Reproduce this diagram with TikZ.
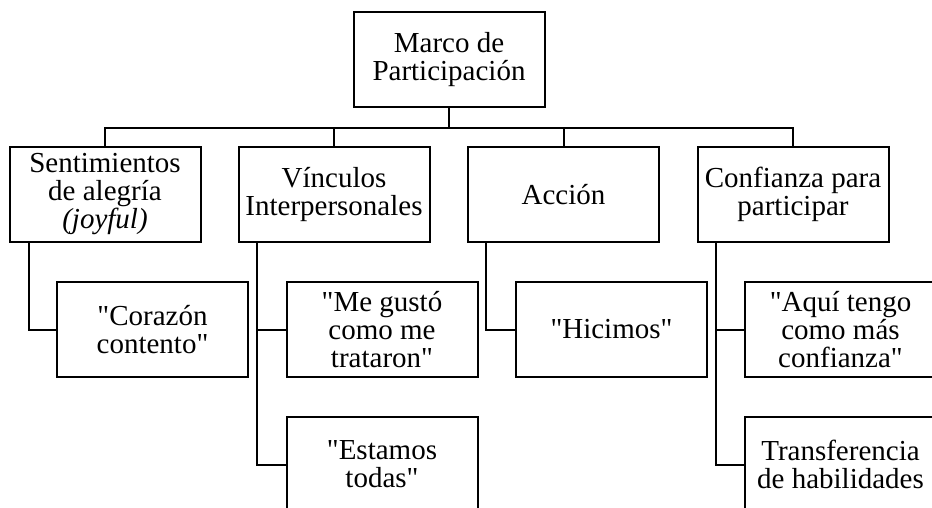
\documentclass[tikz,border=0pt]{standalone}
\usepackage{fontspec}
\setmainfont{Liberation Serif}[Ligatures=TeXOff]
\usepackage{tikz}
\tikzset{>=latex}
\tikzset{box/.style = {draw, line width = 1pt, align = center, minimum width = 95.5pt, minimum height = 47.5pt, inner sep = 1pt, font = \fontsize{14.5}{14}\selectfont},
link/.style = {line width = 1pt}}

\begin{document}
\begin{tikzpicture}[x = 0.5pt, y = -0.5pt]
\useasboundingbox (0,0) rectangle (932,508);
\clip (0,0) rectangle (932,508);

% raiz
\node[box] (marco) at (449,60) {Marco de\\Participaci\'on};

% primer nivel
\node[box] (alegria) at (105,194.5) {Sentimientos\\de alegr\'ia\\\textit{(joyful)}};
\node[box] (vinculos) at (334,194.5) {V\'inculos\\Interpersonales};
\node[box] (accion) at (563.5,194.5) {Acci\'on};
\node[box] (confianza) at (793,194.5) {Confianza para\\participar};

% segundo nivel
\node[box] (corazon) at (152.5,329.5) {"Coraz\'on\\contento"};
\node[box] (gusto) at (382,329.5) {"Me gust\'o\\como me\\trataron"};
\node[box] (todas) at (382,464.5) {"Estamos\\todas"};
\node[box] (hicimos) at (611.5,329.5) {"Hicimos"};
\node[box] (aqui) at (840.5,329.5) {"Aqu\'i tengo\\como m\'as\\confianza"};
\node[box] (transf) at (840.5,464.5) {Transferencia\\de habilidades};

% conexiones
\draw[link] (marco.south) -- ++(0,20) coordinate (bus);
\draw[link] (alegria.north) |- (bus) -| (confianza.north);
\draw[link] (vinculos.north) -- (vinculos.north |- bus);
\draw[link] (accion.north) -- (accion.north |- bus);

\draw[link] ([xshift = 10pt]alegria.south west) |- (corazon.west);
\draw[link] ([xshift = 9.5pt]vinculos.south west) |- (gusto.west);
\draw[link] ([xshift = 9.5pt]vinculos.south west) |- (todas.west);
\draw[link] ([xshift = 9.5pt]accion.south west) |- (hicimos.west);
\draw[link] ([xshift = 9.5pt]confianza.south west) |- (aqui.west);
\draw[link] ([xshift = 9.5pt]confianza.south west) |- (transf.west);

\end{tikzpicture}
\end{document}
